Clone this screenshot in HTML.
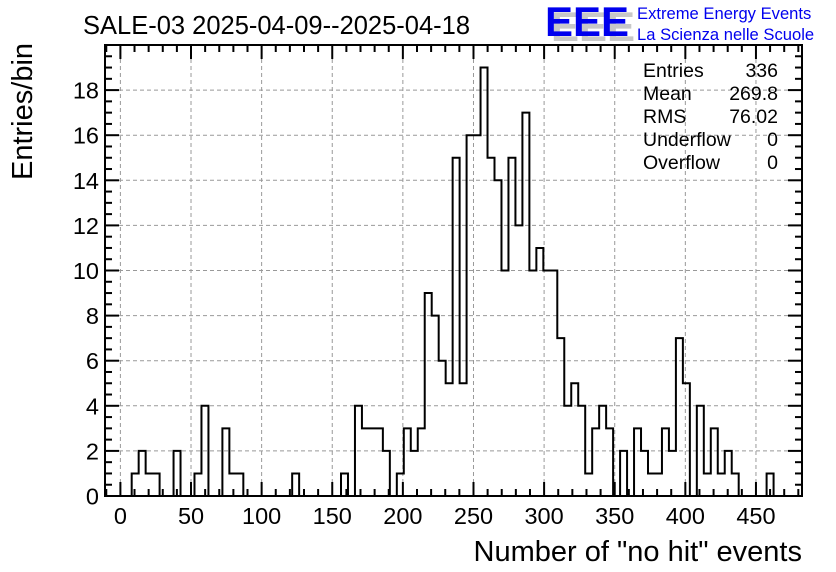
<!DOCTYPE html>
<html><head><meta charset="utf-8"><style>
html,body{margin:0;padding:0;background:#fff;}
svg{display:block;font-family:"Liberation Sans",sans-serif;}
</style></head><body>
<svg id="chart" width="836" height="572" viewBox="0 0 836 572" xmlns="http://www.w3.org/2000/svg">
<rect width="836" height="572" fill="#fff"/>
<text x="83" y="34" font-size="25.5" fill="#000">SALE-03 2025-04-09--2025-04-18</text>
<g>
<text x="551" y="41" font-size="42" font-weight="bold" fill="#c8c8c8" textLength="84" lengthAdjust="spacingAndGlyphs">EEE</text>
<text x="545" y="36" font-size="42" font-weight="bold" fill="#0000ee" textLength="84" lengthAdjust="spacingAndGlyphs">EEE</text>
<text x="637" y="19" font-size="16.6" fill="#0000ee">Extreme Energy Events</text>
<text x="637" y="40" font-size="16.6" fill="#0000ee">La Scienza nelle Scuole</text>
</g>
<g id="grid"></g>
<g id="hist"></g>
<g id="axes"></g>
<g font-size="19.5" fill="#000">
<text x="643" y="77">Entries</text><text x="778" y="77" text-anchor="end">336</text>
<text x="643" y="100">Mean</text><text x="778" y="100" text-anchor="end">269.8</text>
<text x="643" y="123">RMS</text><text x="778" y="123" text-anchor="end">76.02</text>
<text x="643" y="146">Underflow</text><text x="778" y="146" text-anchor="end">0</text>
<text x="643" y="169">Overflow</text><text x="778" y="169" text-anchor="end">0</text>
</g>
<text transform="translate(32,180) rotate(-90)" font-size="29" fill="#000">Entries/bin</text>
<text x="802" y="561" text-anchor="end" font-size="29" fill="#000">Number of "no hit" events</text>
</svg>
<script>
const binLow = 8;
const binWidth = 4.94;
const counts = [1,2,1,1,0,0,2,0,0,1,4,0,0,3,1,1,0,0,0,0,0,0,0,1,0,0,0,0,0,0,1,0,4,3,3,3,2,0,1,3,2,3,9,8,6,5,15,5,16,16,19,15,14,10,15,12,17,10,11,10,10,7,4,5,4,1,3,4,3,0,2,0,3,2,1,1,3,2,7,5,0,4,1,3,1,2,1,0,0,0,0,1];
const xTicks = [0,50,100,150,200,250,300,350,400,450];
const yTicks = [0,2,4,6,8,10,12,14,16,18];
const X0=105,X1=802,Y0=496,Y1=45;
const xMin=-10.9,xMax=482.6,yMin=0,yMax=20;
const sx=v=>X0+(v-xMin)/(xMax-xMin)*(X1-X0);
const sy=v=>Y0-(v-yMin)/(yMax-yMin)*(Y0-Y1);
const NS="http://www.w3.org/2000/svg";
function mk(tag,attrs,parent){const e=document.createElementNS(NS,tag);for(const k in attrs)e.setAttribute(k,attrs[k]);parent.appendChild(e);return e;}
const grid=document.getElementById('grid'),hist=document.getElementById('hist'),axes=document.getElementById('axes');
xTicks.forEach(t=>{const l=mk('line',{x1:sx(t),x2:sx(t),y1:Y1,y2:Y0,stroke:'#999','stroke-dasharray':'4,3','stroke-width':1},grid);

});
yTicks.forEach(t=>{if(t===0)return;const l=mk('line',{x1:X0,x2:X1,y1:sy(t),y2:sy(t),stroke:'#999','stroke-dasharray':'4,3','stroke-width':1},grid);

});
let d='M'+sx(binLow)+','+sy(0);
counts.forEach((c,i)=>{const a=sx(binLow+i*binWidth),b=sx(binLow+(i+1)*binWidth);d+=' L'+a+','+sy(c)+' L'+b+','+sy(c);});
d+=' L'+sx(binLow+counts.length*binWidth)+','+sy(0);
const p=mk('path',{d:d,fill:'none',stroke:'#000','stroke-width':2,'stroke-linejoin':'miter'},hist);


const fr=mk('rect',{x:X0,y:Y1,width:X1-X0,height:Y0-Y1,fill:'none',stroke:'#000','stroke-width':2},axes);


for(let v=-10;v<=480;v+=10){const major=v%50===0;const len=major?14:7;const x=sx(v);
mk('line',{x1:x,x2:x,y1:Y0,y2:Y0-len,stroke:'#000','stroke-width':2},axes);
mk('line',{x1:x,x2:x,y1:Y1,y2:Y1+len,stroke:'#000','stroke-width':2},axes);}
xTicks.forEach(t=>{const tx=mk('text',{x:sx(t),y:Y0+28,'text-anchor':'middle','font-size':23.5},axes);tx.textContent=t;

});
for(let v=0;v<=20;v+=0.5){const major=v%2===0;const len=major?14:7;const y=sy(v);
mk('line',{x1:X0,x2:X0+len,y1:y,y2:y,stroke:'#000','stroke-width':2},axes);
mk('line',{x1:X1,x2:X1-len,y1:y,y2:y,stroke:'#000','stroke-width':2},axes);}
yTicks.forEach(t=>{const tx=mk('text',{x:X0-6,y:sy(t)+8.5,'text-anchor':'end','font-size':23.5},axes);tx.textContent=t;

});
</script>
</body></html>
